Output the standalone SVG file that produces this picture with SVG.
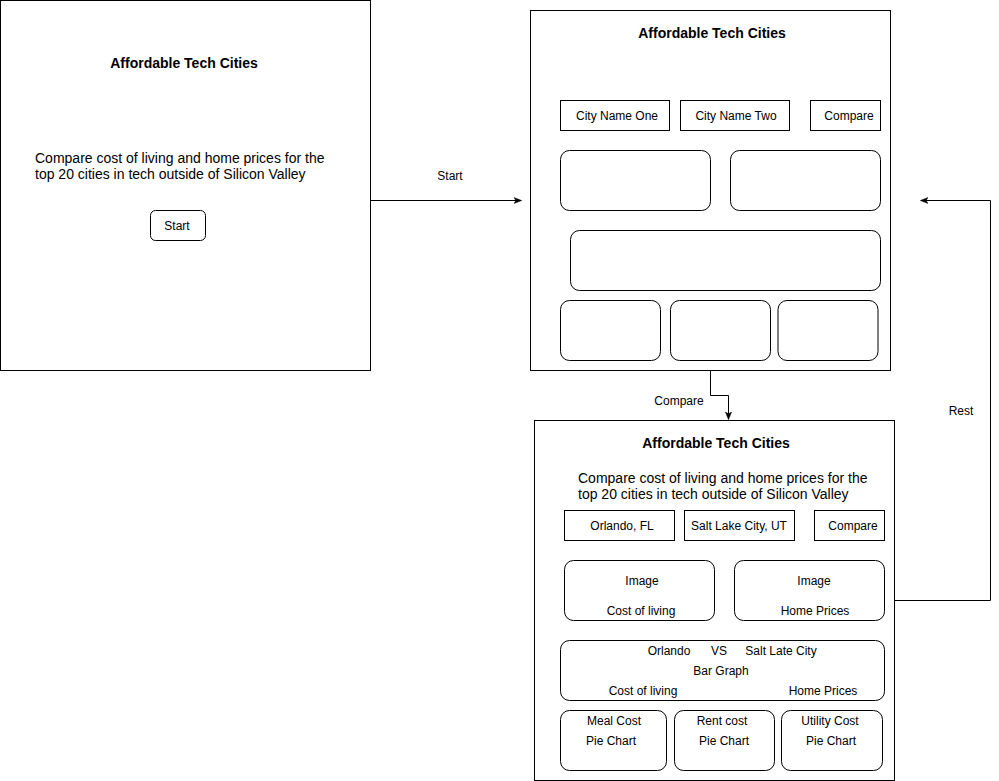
<svg xmlns="http://www.w3.org/2000/svg" width="999" height="781" viewBox="0 0 999 781">
<defs>
<style>
.frame{fill:#fff;stroke:#000;stroke-width:1}
.box{fill:#fff;stroke:#000;stroke-width:1}
.rbox{fill:#fff;stroke:#000;stroke-width:1}
.edge{fill:none;stroke:#000;stroke-width:1}
text{font-family:"Liberation Sans",Arial,sans-serif;fill:#000}
.t{font-size:14px;font-weight:bold;text-anchor:middle}
.b{font-size:14px}
.s{font-size:12px;text-anchor:middle}
</style>
<marker id="arr" viewBox="0 0 10 10" refX="9" refY="5" markerWidth="8" markerHeight="8" markerUnits="userSpaceOnUse" orient="auto">
<path d="M0,1 L10,5 L0,9 L2.5,5 Z" fill="#000" stroke="#000" stroke-width="0.5"/>
</marker>
</defs>
<rect width="999" height="781" fill="#fff"/>

<g id="screen1">
<rect class="frame" x="0.5" y="0.5" width="370" height="370"/>
<text class="t" x="184" y="68">Affordable Tech Cities</text>
<text class="b" x="35" y="163">Compare cost of living and home prices for the</text>
<text class="b" x="35" y="179">top 20 cities in tech outside of Silicon Valley</text>
<rect class="rbox" x="150.5" y="210.5" width="55" height="30" rx="5"/>
<text class="s" x="177" y="230">Start</text>
</g>

<g id="screen2">
<rect class="frame" x="530.5" y="10.5" width="360" height="360"/>
<text class="t" x="712" y="38">Affordable Tech Cities</text>
<rect class="box" x="560.5" y="100.5" width="109" height="30"/>
<text class="s" x="617" y="120">City Name One</text>
<rect class="box" x="680.5" y="100.5" width="109" height="30"/>
<text class="s" x="736" y="120">City Name Two</text>
<rect class="box" x="810.5" y="100.5" width="70" height="30"/>
<text class="s" x="849" y="120">Compare</text>
<rect class="rbox" x="560.5" y="150.5" width="150" height="60" rx="9"/>
<rect class="rbox" x="730.5" y="150.5" width="150" height="60" rx="9"/>
<rect class="rbox" x="570.5" y="230.5" width="310" height="60" rx="9"/>
<rect class="rbox" x="560.5" y="300.5" width="100" height="60" rx="9"/>
<rect class="rbox" x="670.5" y="300.5" width="100" height="60" rx="9"/>
<rect class="rbox" x="778" y="300.5" width="100" height="60" rx="9"/>
</g>

<g id="screen3">
<rect class="frame" x="534.5" y="420.5" width="360" height="360"/>
<text class="t" x="716" y="448">Affordable Tech Cities</text>
<text class="b" x="578" y="483">Compare cost of living and home prices for the</text>
<text class="b" x="578" y="499">top 20 cities in tech outside of Silicon Valley</text>
<rect class="box" x="564.5" y="510.5" width="110" height="30"/>
<text class="s" x="622" y="530">Orlando, FL</text>
<rect class="box" x="684.5" y="510.5" width="110" height="30"/>
<text class="s" x="739" y="530">Salt Lake City, UT</text>
<rect class="box" x="814.5" y="510.5" width="70" height="30"/>
<text class="s" x="853" y="530">Compare</text>
<rect class="rbox" x="564.5" y="560.5" width="150" height="60" rx="9"/>
<text class="s" x="642" y="585">Image</text>
<text class="s" x="641" y="615">Cost of living</text>
<rect class="rbox" x="734.5" y="560.5" width="150" height="60" rx="9"/>
<text class="s" x="814" y="585">Image</text>
<text class="s" x="815" y="615">Home Prices</text>
<rect class="rbox" x="560.5" y="640.5" width="324" height="60" rx="9"/>
<text class="s" x="669" y="655">Orlando</text>
<text class="s" x="719" y="655">VS</text>
<text class="s" x="781" y="655">Salt Late City</text>
<text class="s" x="721" y="675">Bar Graph</text>
<text class="s" x="643" y="695">Cost of living</text>
<text class="s" x="823" y="695">Home Prices</text>
<rect class="rbox" x="560.5" y="710.5" width="106" height="60" rx="9"/>
<text class="s" x="614" y="725">Meal Cost</text>
<text class="s" x="611" y="745">Pie Chart</text>
<rect class="rbox" x="674.5" y="710.5" width="100" height="60" rx="9"/>
<text class="s" x="722" y="725">Rent cost</text>
<text class="s" x="724" y="745">Pie Chart</text>
<rect class="rbox" x="781.5" y="710.5" width="101" height="60" rx="9"/>
<text class="s" x="830" y="725">Utility Cost</text>
<text class="s" x="831" y="745">Pie Chart</text>
</g>

<g id="connectors">
<path class="edge" d="M370.5,200.5 L521,200.5" marker-end="url(#arr)"/>
<text class="s" x="450" y="180">Start</text>
<path class="edge" d="M710.5,370.5 L710.5,395.5 L728.5,395.5 L728.5,419" marker-end="url(#arr)"/>
<text class="s" x="679" y="405">Compare</text>
<path class="edge" d="M894.5,600.5 L990.5,600.5 L990.5,200.5 L921,200.5" marker-end="url(#arr)"/>
<text class="s" x="961" y="415">Rest</text>
</g>
</svg>
